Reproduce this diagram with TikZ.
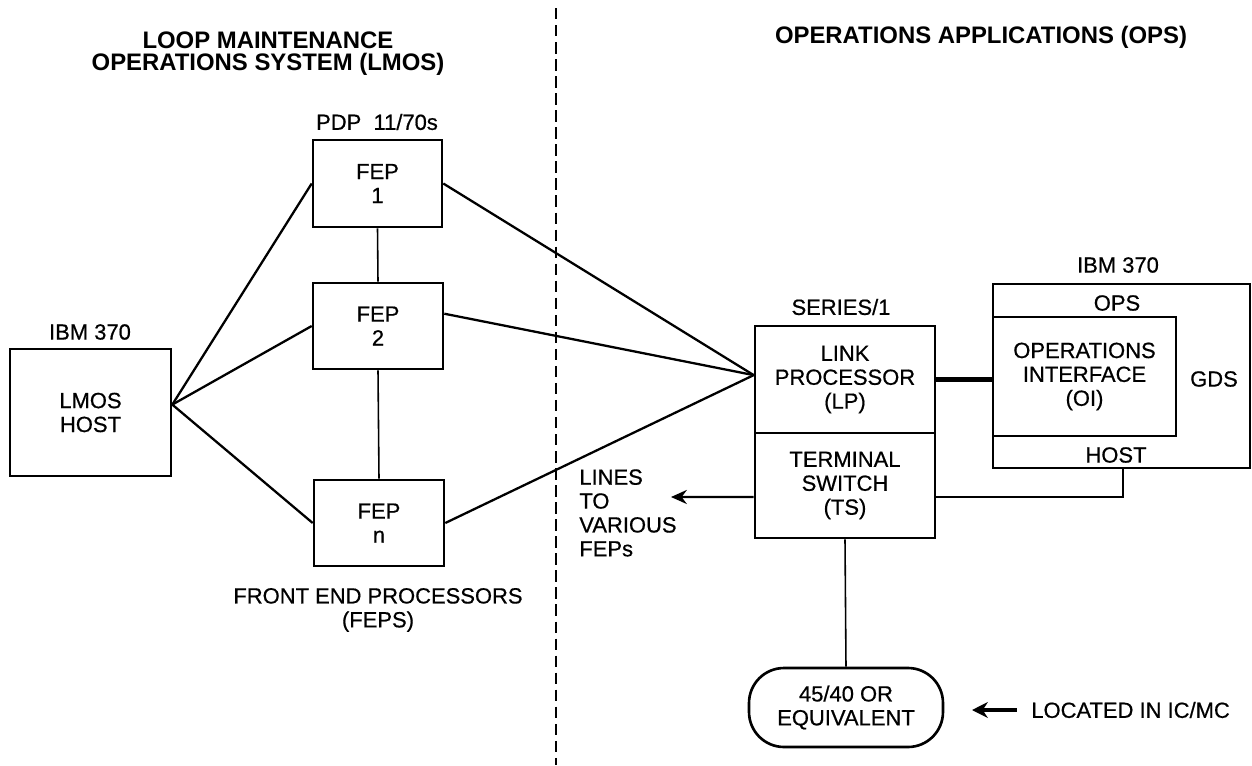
\documentclass[tikz,border=0pt]{standalone}
\usepackage{fontspec}
\setmainfont{Liberation Sans}
\newfontfamily\medfam[FakeBold=0.6]{Liberation Sans}
\usetikzlibrary{arrows.meta,shapes.misc}
\newcommand\lblfont{\medfam\fontsize{12.5}{13.6}\selectfont}
\newcommand\ttlfont{\fontsize{13.6}{12.6}\selectfont\bfseries}
\begin{document}
\begin{tikzpicture}[x=0.02cm,y=-0.02cm,
  box/.style={draw,line width=1.5pt,inner sep=0pt,align=center,font=\lblfont},
  lbl/.style={inner sep=0pt,align=center,font=\lblfont},
  ttl/.style={inner sep=0pt,align=center,font=\ttlfont},
  conn/.style={line width=1.3pt},
  thinconn/.style={line width=0.9pt},
  thickconn/.style={line width=2.6pt},
  divider/.style={line width=1.4pt,dash pattern=on 6.5pt off 3.2pt},
]
\useasboundingbox (0,0) rectangle (1252,765);

% titles
\node[ttl] (lmostitle) at (268,54) {LOOP MAINTENANCE\\OPERATIONS SYSTEM (LMOS)};
\node[ttl] (opstitle) at (981,37) {OPERATIONS APPLICATIONS (OPS)};

% divider
\coordinate (dtop) at (556,8);
\coordinate (dbot) at (556,765);
\draw[divider] (dtop) -- (dbot);

% LMOS side
\node[lbl] (pdp) at (377,122) {PDP\ \ 11/70s};
\node[box,minimum width=2.58cm,minimum height=1.74cm] (fep1) at (377.5,183.5) {FEP\\1};
\node[box,minimum width=2.6cm,minimum height=1.72cm] (fep2) at (378,326) {FEP\\2};
\node[box,minimum width=2.6cm,minimum height=1.72cm] (fepn) at (379,523) {FEP\\n};
\node[lbl] (ibml) at (90,332) {IBM 370};
\node[box,minimum width=3.22cm,minimum height=2.54cm] (lmos) at (90.5,412.5) {LMOS\\HOST};
\node[lbl] (feps) at (378,610) {FRONT END PROCESSORS\\(FEPS)};

\draw[thinconn] (fep1.south) -- (fep2.north);
\draw[thinconn] (fep2.south) -- (fepn.north);
\draw[conn] ([yshift=4.5pt]lmos.east) -- (fep1.west);
\draw[conn] ([yshift=4.5pt]lmos.east) -- (fep2.west);
\draw[conn] ([yshift=4.5pt]lmos.east) -- (fepn.west);

% OPS side
\node[lbl] (series) at (841,307) {SERIES/1};
\node[box,minimum width=3.6cm,minimum height=2.14cm] (lp) at (845,379.5) {LINK\\PROCESSOR\\(LP)};
\node[box,minimum width=3.6cm,minimum height=2.1cm] (ts) at (845,485.5) {TERMINAL\\SWITCH\\(TS)};

\node[lbl] (ibmr) at (1118,265) {IBM 370};
\node[box,minimum width=5.14cm,minimum height=3.68cm] (gds) at (1121.5,376) {};
\node[box,minimum width=3.66cm,minimum height=2.38cm] (oi) at (1084.5,376.5) {OPERATIONS\\INTERFACE\\(OI)};
\node[lbl] (opsl) at (1117,303) {OPS};
\node[lbl] (gdsl) at (1214,379) {GDS};
\node[lbl] (hostl) at (1116,455) {HOST};

\draw[conn] (fep1.east) -- ([yshift=2.5pt]lp.west);
\draw[conn] ([yshift=7pt]fep2.east) -- ([yshift=2.5pt]lp.west);
\draw[conn] (fepn.east) -- ([yshift=2.5pt]lp.west);

\draw[thickconn] (lp.east) -- (lp.east -| oi.west);

\coordinate (hostdrop) at (1123,468);
\draw[conn] ([yshift=-6.5pt]ts.east) -| (hostdrop);

\coordinate (linesend) at (671,497);
\draw[conn,-{Stealth[length=9pt,width=8pt]}] ([yshift=-6.5pt]ts.west) -- (linesend);
\node[lbl,align=left,anchor=north west] (lines) at (579,469) {LINES\\TO\\VARIOUS\\FEPs};

\node[draw,line width=1.5pt,inner sep=0pt,align=center,font=\lblfont,rounded corners=0.7cm,minimum width=3.88cm,minimum height=1.58cm] (term) at (846,707.5) {45/40 OR\\EQUIVALENT};
\draw[thinconn] (ts.south) -- (term.north);

\node[lbl,anchor=west] (loc) at (1031,710) {LOCATED IN IC/MC};
\coordinate (locarrow) at (972,710);
\draw[line width=1.8pt,-{Stealth[length=9pt,width=9pt]}] ([xshift=-8pt]loc.west) -- (locarrow);
\end{tikzpicture}
\end{document}
